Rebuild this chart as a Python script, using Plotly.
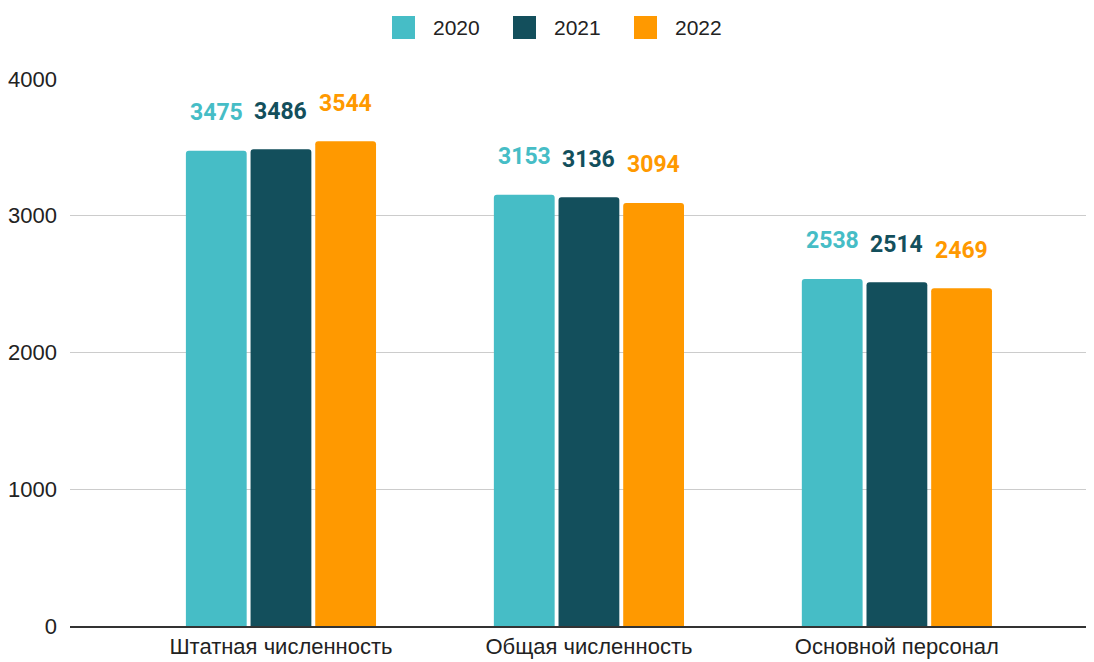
import plotly.graph_objects as go

categories = ["Штатная численность", "Общая численность", "Основной персонал"]
years = ["2020", "2021", "2022"]
values_2020 = [3475, 3153, 2538]
values_2021 = [3486, 3136, 2514]
values_2022 = [3544, 3094, 2469]
colors = ["#46BDC6", "#134F5C", "#FF9900"]
y_ticks = [0, 1000, 2000, 3000, 4000]

# page has an 8px body margin; plot area spans x 70..1094, y 79..626 in page pixels
W, H = 1086, 654
L, T, B, R = 62, 71, 36, 0
pw, ph = W - L - R, H - T - B
x_range = [-0.685, 2.64]
bargap = 0.37

fig = go.Figure()
series = [values_2020, values_2021, values_2022]
for name, vals, col in zip(years, series, colors):
    fig.add_trace(go.Bar(
        x=categories, y=vals, name=name, showlegend=False,
        marker=dict(color=col, line=dict(width=0), cornerradius=3),
    ))

# value labels above each bar (offset by the group slot width)
slot_px = (1 - bargap) / len(years) * pw / (x_range[1] - x_range[0])
for i, (vals, col) in enumerate(zip(series, colors)):
    for cat, v in zip(categories, vals):
        fig.add_annotation(x=cat, y=v, text=f"<b>{v}</b>", showarrow=False,
                           xshift=(i - 1) * slot_px, yshift=38, yanchor="middle",
                           font=dict(family="Roboto", size=23, color=col))

# custom legend (page pixel positions converted to paper coords)
def px_x(x):
    return (x - 8 - L) / pw

def px_y(y):
    return (H - B - (y - 8)) / ph

legend_sq = [392, 513, 634]
for name, col, sx in zip(years, colors, legend_sq):
    fig.add_shape(type="rect", xref="paper", yref="paper",
                  x0=px_x(sx), x1=px_x(sx + 23), y0=px_y(39), y1=px_y(16),
                  fillcolor=col, line=dict(width=0), layer="above")
    fig.add_annotation(xref="paper", yref="paper", x=px_x(sx + 39), y=px_y(28),
                       text=name, showarrow=False, xanchor="left", yanchor="middle",
                       font=dict(family="Liberation Sans, Arial", size=21, color="#222"))

fig.update_layout(
    width=W, height=H,
    margin=dict(l=L, r=R, t=T, b=B, autoexpand=False),
    plot_bgcolor="white", paper_bgcolor="white",
    barmode="group", bargap=bargap, bargroupgap=0.06,
    font=dict(family="Liberation Sans, Arial", size=21, color="#222"),
    showlegend=False,
)
fig.update_xaxes(range=x_range, showgrid=False, ticks="", automargin=False,
                 tickfont=dict(size=22, color="#222"), ticklabelstandoff=0,
                 showline=True, linecolor="#333", linewidth=2)
fig.update_yaxes(range=[0, 4000], tickvals=y_ticks, showgrid=True, gridcolor="#ccc", gridwidth=1,
                 zeroline=False, ticks="", automargin=False,
                 tickfont=dict(size=22, color="#222"), ticklabelstandoff=12)

fig.write_html("out.html")
